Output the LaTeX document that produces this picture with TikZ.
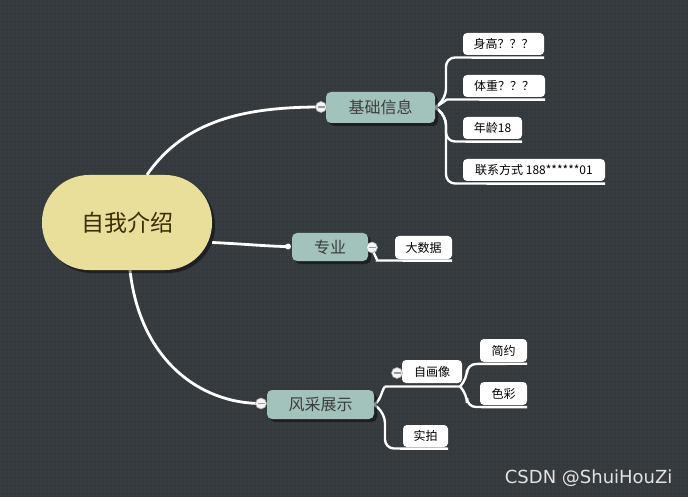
\documentclass[tikz,border=0pt]{standalone}
\usepackage{fontspec}
\setmainfont{Noto Sans CJK SC}
\newfontfamily\wmfont{DejaVu Sans}
\usetikzlibrary{shadows,patterns.meta}
\definecolor{bgc}{HTML}{353A3E}
\definecolor{dotc}{HTML}{3E4347}
\definecolor{rootc}{HTML}{E9DE9A}
\definecolor{roott}{HTML}{3A2E08}
\definecolor{mainc}{HTML}{A2C3BC}
\definecolor{maint}{HTML}{3C3C3C}
\pgfdeclarelayer{back}
\pgfdeclarelayer{lines}
\pgfsetlayers{back,lines,main}
\pgfdeclarepattern{
  name=griddots,
  type=uncolored,
  bottom left={\pgfpoint{0pt}{0pt}},
  top right={\pgfpoint{4pt}{4pt}},
  tile size={\pgfpoint{4pt}{4pt}},
  code={\pgfpathrectangle{\pgfpoint{1.5pt}{1.5pt}}{\pgfpoint{1pt}{1pt}}\pgfusepath{fill}}
}
\tikzset{
  rootbox/.style={fill=rootc, text=roott, rounded corners=47pt, minimum width=170pt, minimum height=95pt, inner sep=0pt,
    font=\fontsize{23}{23}\selectfont, drop shadow={shadow xshift=3pt, shadow yshift=-3pt, opacity=0.45, fill=black}},
  mainbox/.style={fill=mainc, text=maint, rounded corners=5pt, inner sep=0pt,
    font=\fontsize{16}{16}\selectfont, drop shadow={shadow xshift=3pt, shadow yshift=-3pt, opacity=0.45, fill=black}},
  childbox/.style={fill=white, text=black, rounded corners=4pt, inner sep=0pt, minimum height=22pt,
    font=\fontsize{12}{12}\selectfont},
  conn/.style={draw=white, line width=2.8pt},
  branch/.style={draw=white, line width=2.4pt, rounded corners=9pt},
  collapse/.style={circle, fill=white!92!gray, draw=gray!70, line width=0.6pt, minimum size=11pt, inner sep=0pt,
    path picture={\draw[gray!80, line width=1.2pt] ([xshift=-3.5pt]path picture bounding box.center) -- ([xshift=3.5pt]path picture bounding box.center);}},
  dotnode/.style={circle, fill=white, minimum size=6pt, inner sep=0pt}
}
\begin{document}
\begin{tikzpicture}[x=1pt,y=-1pt]
\begin{pgfonlayer}{back}
\fill[bgc] (0,0) rectangle (688,497);
\fill[pattern=griddots, pattern color=dotc] (0,0) rectangle (688,497);
\end{pgfonlayer}
\useasboundingbox (0,0) rectangle (688,497);

% nodes
\node[rootbox] (root) at (127,222.5) {自我介绍};
\node[mainbox, minimum width=109pt, minimum height=31pt] (jc) at (380.5,107.5) {基础信息};
\node[mainbox, minimum width=76pt, minimum height=28pt] (zy) at (330,247) {专业};
\node[mainbox, minimum width=107pt, minimum height=29pt] (fc) at (320.5,404.5) {风采展示};

\node[childbox, minimum width=81pt] (c1) at (503.5,44) {身高？？？};
\node[childbox, minimum width=82pt] (c2) at (504,86) {体重？？？};
\node[childbox, minimum width=59pt] (c3) at (492.5,128) {年龄18};
\node[childbox, minimum width=142pt] (c4) at (534,170) {联系方式 188******01};
\node[childbox, minimum width=57pt, minimum height=23pt] (d1) at (423.5,247.5) {大数据};
\node[childbox, minimum width=60pt, minimum height=23pt] (h1) at (432,371.5) {自画像};
\node[childbox, minimum width=47pt, minimum height=23pt] (j1) at (503.5,350.5) {简约};
\node[childbox, minimum width=47pt, minimum height=23pt] (j2) at (503.5,393.5) {色彩};
\node[childbox, minimum width=45pt] (s1) at (425.5,436) {实拍};

\coordinate (k1) at (321,107);
\coordinate (dt) at (288,246.5);
\coordinate (k3) at (261,403.5);
\coordinate (k2) at (372,247.5);
\coordinate (k4) at (397,373);
\coordinate (hs) at (460,386.5);

% connectors
\begin{pgfonlayer}{lines}
\draw[conn] ([xshift=20pt]root.north) .. controls (185,120) and (245,107) .. (k1);
\draw[conn] ([yshift=-20pt]root.east) .. controls (245,244) and (270,246.5) .. (dt);
\draw[conn] ([xshift=3pt]root.south) .. controls (140,360) and (200,403.5) .. (k3);

\draw[branch] (jc.east) -- (446,98) -- (446,57.5) -- ([yshift=-2.5pt]c1.south east);
\draw[branch] (jc.east) .. controls (445,101) and (447,99.5) .. (456,99.5) -- ([yshift=-2.5pt]c2.south east);
\draw[branch] (jc.east) -- (446,116) -- (446,141.5) -- ([yshift=-2.5pt]c3.south east);
\draw[branch] (jc.east) -- (446,116) -- (446,183.5) -- ([yshift=-2.5pt]c4.south east);

\draw[branch] (k2) .. controls (375,257) and (378,260.5) .. (386,260.5) -- ([yshift=-1.5pt]d1.south east);

\draw[branch] (fc.east) .. controls (382,400) and (382,386.5) .. (395,386.5) -- (hs);
\draw[branch] (hs) -- (467,379) -- (467,364) -- ([yshift=-1.5pt]j1.south east);
\draw[branch] (hs) -- (467,394) -- (467,407) -- ([yshift=-2pt]j2.south east);
\draw[branch] (fc.east) -- (385,414) -- (385,448.5) -- ([yshift=-1.5pt]s1.south east);
\end{pgfonlayer}

% collapse markers
\node[collapse] at (k1) {};
\node[dotnode] at (dt) {};
\node[collapse] at (k3) {};
\node[collapse] at (k2) {};
\node[collapse] at (k4) {};

% watermark
\node[text=white!78!gray, font=\wmfont\fontsize{18}{18}\selectfont, anchor=east] (wm) at (676,478) {CSDN @ShuiHouZi};
\end{tikzpicture}
\end{document}
